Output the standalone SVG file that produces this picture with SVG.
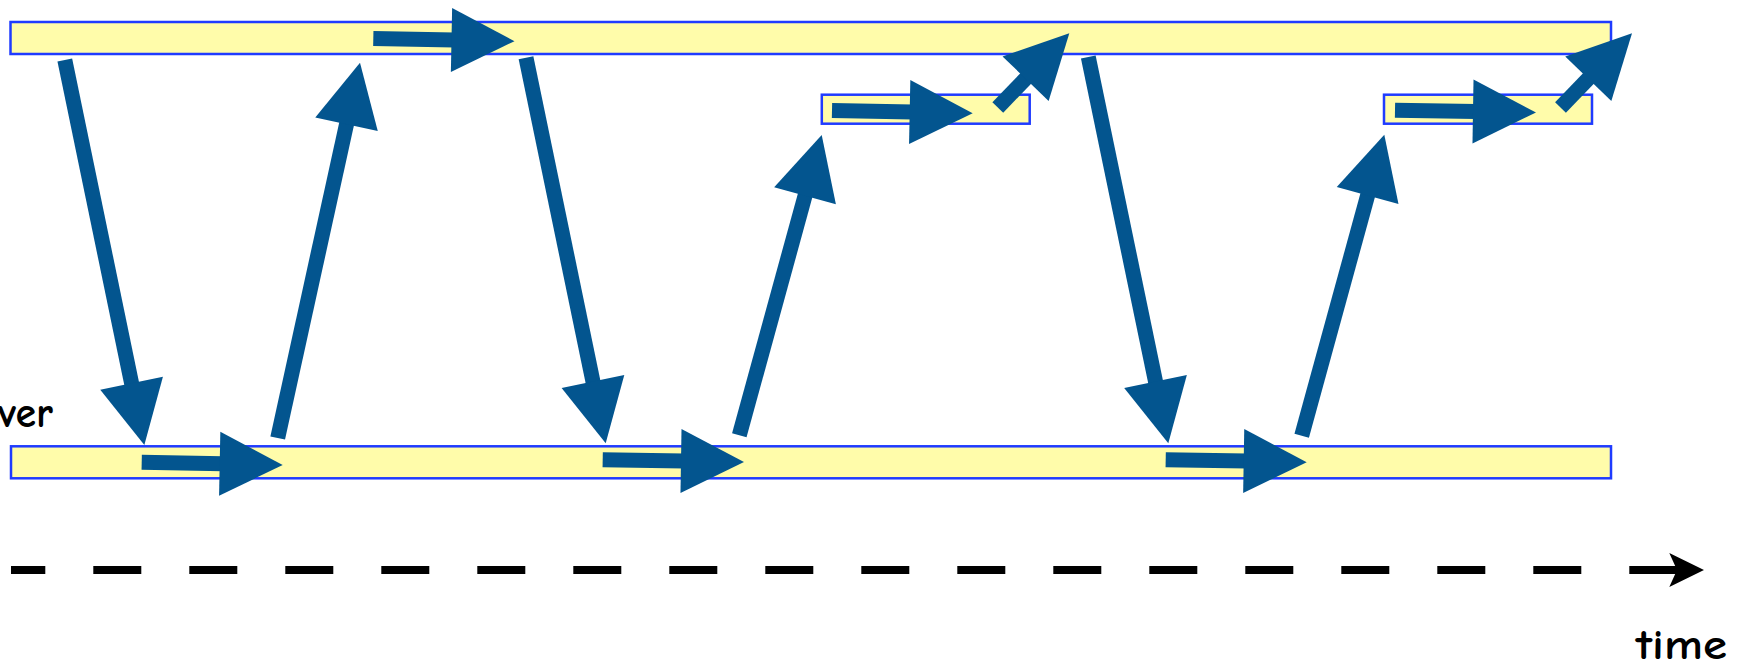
<svg xmlns="http://www.w3.org/2000/svg" width="1737" height="667" viewBox="0 0 1737 667">
  <style>
    .bar { fill: #FFFCAA; stroke: #1F3BFF; stroke-width: 2.5; }
    .msg { fill: none; stroke: #03558F; stroke-width: 15; stroke-linecap: butt; marker-end: url(#head); }
    .axis { fill: none; stroke: #000; stroke-width: 8; stroke-dasharray: 48 48; stroke-dashoffset: 13.7; }
    .label { font-family: "Comic Sans MS", "Comic Neue", "DejaVu Sans", sans-serif; font-size: 42px; font-weight: bold; fill: #000; }
  </style>
  <defs>
    <marker id="head" markerUnits="userSpaceOnUse" viewBox="0 0 63 64" markerWidth="63" markerHeight="64" refX="3" refY="32" orient="auto" overflow="visible">
      <path d="M0,0 L63,32 L0,64 z" fill="#03558F"/>
    </marker>
  </defs>

  <!-- upper timeline -->
  <g id="upper-line">
    <rect class="bar" x="10.5" y="22" width="1600.5" height="32"/>
  </g>

  <!-- lower timeline -->
  <g id="lower-line">
    <rect class="bar" x="11" y="446.3" width="1600" height="32"/>
    <text class="label" x="53" y="427" text-anchor="end">ver</text>
  </g>

  <!-- short intermediate segments -->
  <g id="segment-1">
    <rect class="bar" x="821.8" y="94.7" width="207.9" height="29"/>
  </g>
  <g id="segment-2">
    <rect class="bar" x="1384" y="94.7" width="208" height="29"/>
  </g>

  <!-- time axis -->
  <g id="time-axis">
    <line class="axis" x1="11" y1="570" x2="1678" y2="570"/>
    <path d="M1704,570 L1669.3,553 L1677,570 L1669.3,587 z" fill="#000"/>
    <text class="label" x="1636" y="659" textLength="91" lengthAdjust="spacingAndGlyphs">time</text>
  </g>

  <!-- message arrows -->
  <g id="connectors">
    <line class="msg" x1="64.8" y1="60" x2="132.2" y2="386.2"/>
    <line class="msg" x1="141.7" y1="462.2" x2="222.7" y2="463.8"/>
    <line class="msg" x1="277.7" y1="438" x2="347.15" y2="121.3"/>
    <line class="msg" x1="373.3" y1="38.4" x2="454.5" y2="40"/>
    <line class="msg" x1="526" y1="57.7" x2="593.56" y2="384.54"/>
    <line class="msg" x1="602.7" y1="459.8" x2="684" y2="461.1"/>
    <line class="msg" x1="739.3" y1="435.3" x2="805.82" y2="192.86"/>
    <line class="msg" x1="832" y1="110.5" x2="912.7" y2="112.1"/>
    <line class="msg" x1="997.8" y1="107.5" x2="1027.67" y2="76.51"/>
    <line class="msg" x1="1088.3" y1="57" x2="1156.13" y2="384.55"/>
    <line class="msg" x1="1165.7" y1="459.7" x2="1246.7" y2="461.1"/>
    <line class="msg" x1="1301.7" y1="435.7" x2="1368.42" y2="192.56"/>
    <line class="msg" x1="1395" y1="110.2" x2="1476" y2="111.5"/>
    <line class="msg" x1="1560.5" y1="107.5" x2="1590.37" y2="76.51"/>
  </g>
</svg>
